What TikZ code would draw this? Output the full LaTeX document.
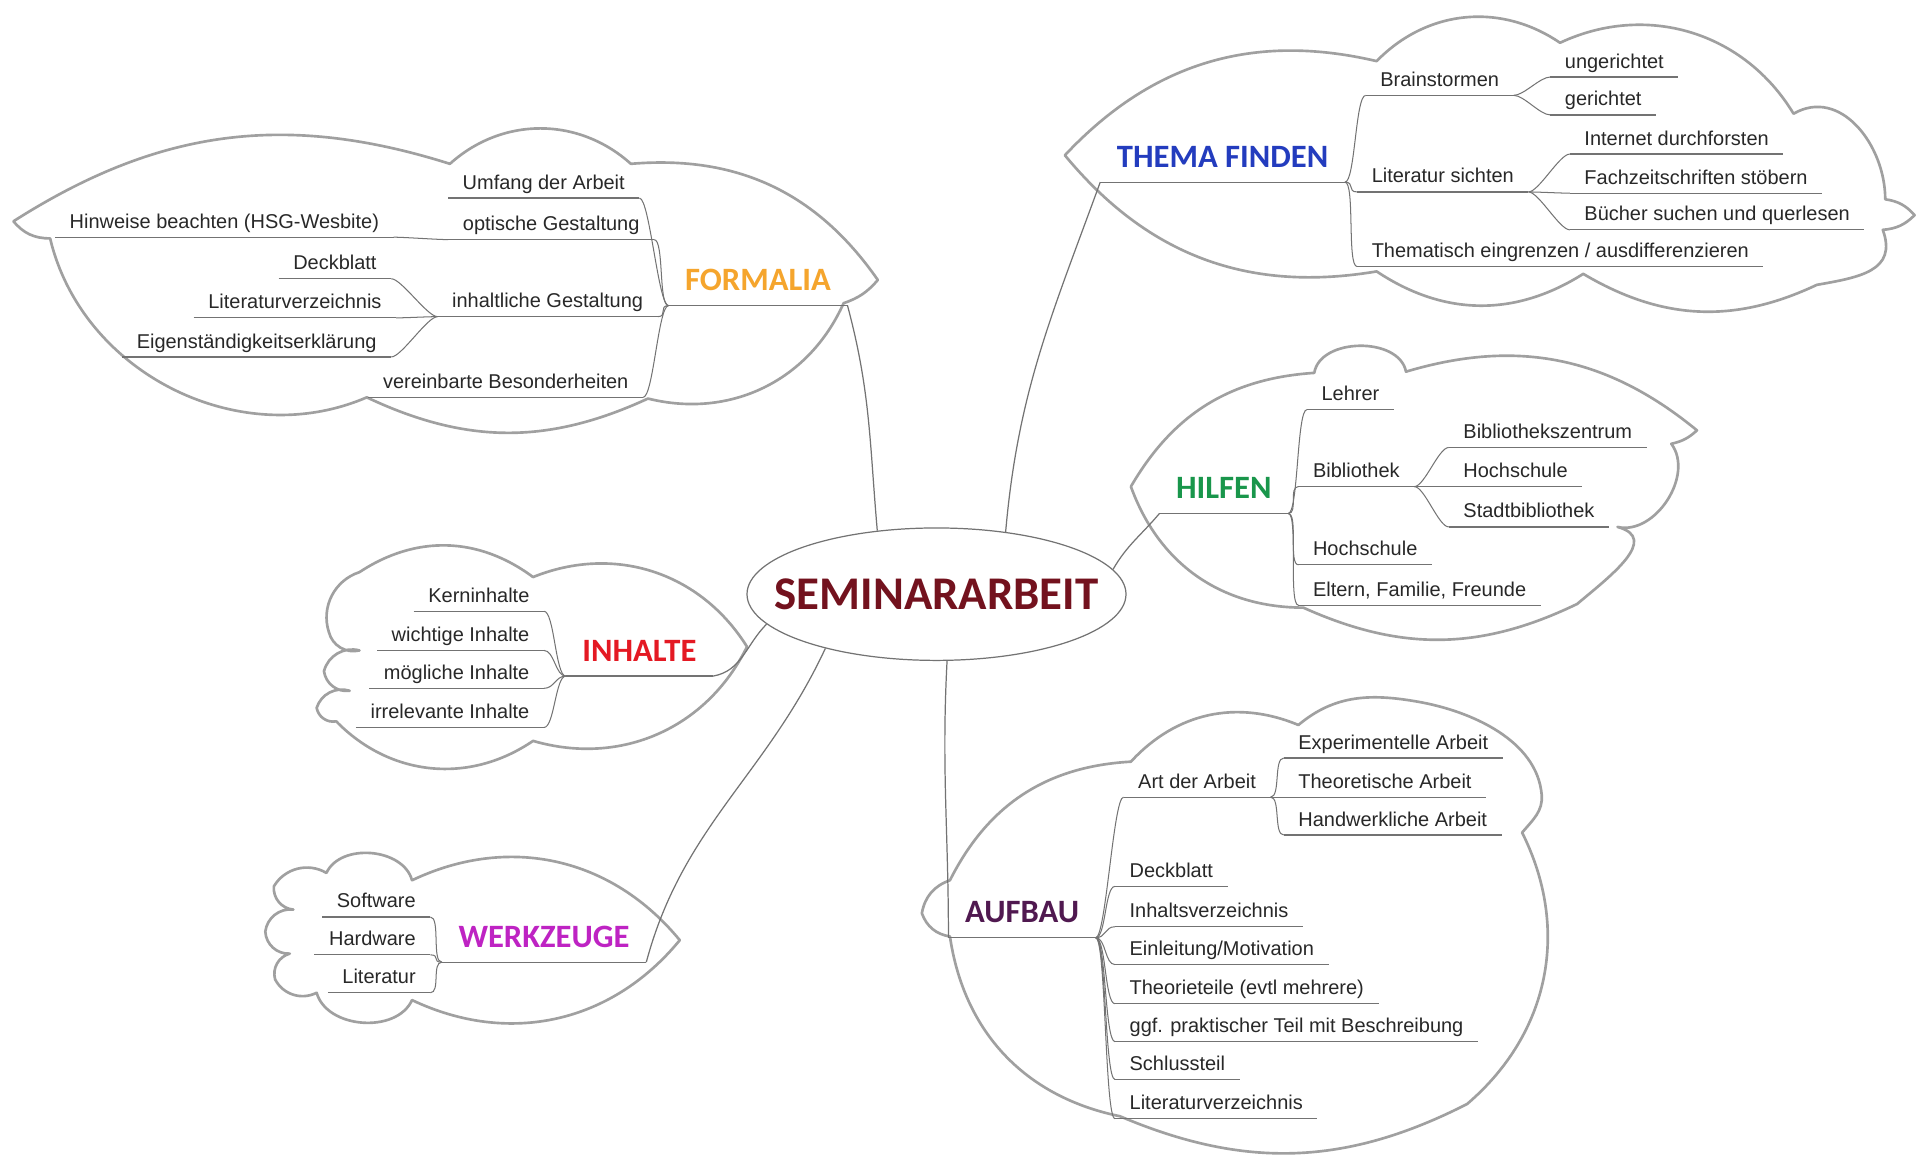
\documentclass[tikz,border=0pt]{standalone}
\usepackage{fontspec}
\setmainfont{Liberation Sans}
\newfontfamily\headfont{Carlito}
\usetikzlibrary{positioning,shapes.geometric}

\definecolor{cloudgray}{RGB}{160,160,160}
\definecolor{linegray}{RGB}{115,115,115}
\definecolor{textgray}{RGB}{40,40,40}
\definecolor{semred}{RGB}{115,18,30}
\definecolor{themablue}{RGB}{35,60,190}
\definecolor{formorange}{RGB}{245,165,45}
\definecolor{hilfgreen}{RGB}{25,150,75}
\definecolor{inhred}{RGB}{228,25,35}
\definecolor{werkmagenta}{RGB}{190,35,195}
\definecolor{aufpurple}{RGB}{80,25,80}

\begin{document}
\begin{tikzpicture}[%
	x=0.6pt,y=0.6pt,
	every node/.style={font=\fontsize{9.8}{11}\selectfont,text=textgray},
	topic/.style={inner xsep=7pt,inner ysep=2pt,text depth=2.2pt},
	rtopic/.style={topic,anchor=south west},
	ltopic/.style={topic,anchor=south east},
	head/.style={anchor=south,inner xsep=8pt,inner ysep=7pt,
		font=\headfont\bfseries\fontsize{16}{18}\selectfont},
	cloudline/.style={draw=cloudgray,line width=1.3pt,line join=round,line cap=round},
	uline/.style={draw=linegray,line width=.6pt},
	rbranch/.style={draw=linegray,line width=.5pt,out=0,in=180,out distance=5pt,in distance=5pt},
	lbranch/.style={draw=linegray,line width=.5pt,out=180,in=0,out distance=5pt,in distance=5pt},
	link/.style={draw=linegray,line width=.6pt}]

	\fill[white] (0,0) rectangle (1568,-944);
	\useasboundingbox (0,0) rectangle (1568,-944);

	% clouds
	\draw[cloudline] (871,-127) to[bend left=30] (1126,-50) to[bend left=40] (1276,-35)
		to[bend left=42] (1467,-93) to[out=30,in=90,looseness=1.1] (1542,-163)
		to[bend left=20] (1566,-176) to[bend left=20] (1540,-188)
		to[out=-70,in=10,looseness=1.3] (1486,-233) to[bend left=28] (1295,-224)
		to[bend left=33] (1126,-222) to[bend left=30] (871,-127);
	\draw[cloudline] (11,-181) to[bend left=25] (368,-134) to[bend left=42] (516,-134)
		to[bend left=30] (718,-229) to[bend left=15] (690,-248) to[bend left=40] (530,-326)
		to[bend left=25] (300,-325) to[bend left=50] (41,-195) to[bend left=25] (11,-181);
	\draw[cloudline] (925,-398) to[bend left=28] (1075,-305) to[bend left=80] (1150,-304)
		to[bend left=28] (1388,-352) to[bend left=15] (1367,-363) to[bend left=70] (1323,-431)
		to[out=-15,in=40,looseness=1.3] (1290,-494) to[bend left=25] (1066,-497)
		to[bend left=35] (925,-398);
	\draw[cloudline] (294,-468) to[bend left=35] (436,-472) to[bend left=40] (611,-529)
		to[bend left=40] (436,-606) to[bend left=40] (275,-590) to[bend left=45] (259,-579)
		to[bend left=45] (286,-565) to[bend left=45] (265,-549) to[bend left=45] (294,-532)
		to[bend left=45] (269,-517) to[bend left=45] (294,-468);
	\draw[cloudline] (267,-714) to[bend left=70] (337,-720) to[bend left=38] (556,-769)
		to[bend left=38] (337,-818) to[bend left=70] (259,-812) to[bend left=45] (225,-801)
		to[bend left=45] (237,-780) to[bend left=45] (217,-762) to[bend left=45] (240,-744)
		to[bend left=45] (224,-725) to[bend left=45] (267,-714);
	\draw[cloudline] (754,-747) to[bend left=30] (777,-720) to[bend left=30] (925,-623)
		to[bend left=35] (1062,-593) to[out=40,in=170] (1160,-574)
		to[out=-10,in=95,looseness=0.9] (1261,-650) to[out=-85,in=50] (1245,-681)
		to[bend left=38] (1200,-903) to[bend left=25] (916,-913)
		to[bend left=35] (777,-766) to[bend left=30] (754,-747);

	% centre
	\node[draw=linegray,line width=.6pt,ellipse,minimum width=186pt,minimum height=65pt,
		inner xsep=-20pt,inner ysep=0pt,text=semred,
		font=\headfont\bfseries\fontsize{23}{26}\selectfont]
		(SEM) at (766,-486) {SEMINARARBEIT};

	% thema finden
	\node[head,text=themablue] (THEMA) at (1000,-149) {THEMA FINDEN};
	\node[rtopic] (BRAIN) at (1117,-78)  {Brainstormen};
	\node[rtopic] (UNG)   at (1268,-63)  {ungerichtet};
	\node[rtopic] (GER)   at (1268,-94)  {gerichtet};
	\node[rtopic] (LIT)   at (1110,-157) {Literatur sichten};
	\node[rtopic] (NET)   at (1284,-126) {Internet durchforsten};
	\node[rtopic] (FACH)  at (1284,-158) {Fachzeitschriften stöbern};
	\node[rtopic] (BUCH)  at (1284,-188) {Bücher suchen und querlesen};
	\node[rtopic] (EING)  at (1110,-218) {Thematisch eingrenzen / ausdifferenzieren};

	% hilfen
	\node[head,text=hilfgreen] (HILF) at (1001,-420) {HILFEN};
	\node[rtopic] (LEHR) at (1069,-335) {Lehrer};
	\node[rtopic] (BIB)  at (1062,-398) {Bibliothek};
	\node[rtopic] (BZ)   at (1185,-366) {Bibliothekszentrum};
	\node[rtopic] (HS)   at (1185,-398) {Hochschule};
	\node[rtopic] (SB)   at (1185,-431) {Stadtbibliothek};
	\node[rtopic] (HS2)  at (1062,-462) {Hochschule};
	\node[rtopic] (ELT)  at (1062,-495) {Eltern, Familie, Freunde};

	% aufbau
	\node[head,text=aufpurple] (AUF) at (836,-767) {AUFBAU};
	\node[rtopic] (ART)  at (919,-652)  {Art der Arbeit};
	\node[rtopic] (EXP)  at (1050,-620) {Experimentelle Arbeit};
	\node[rtopic] (THEO) at (1050,-652) {Theoretische Arbeit};
	\node[rtopic] (HAND) at (1050,-683) {Handwerkliche Arbeit};
	\node[rtopic] (DB)   at (912,-725)  {Deckblatt};
	\node[rtopic] (IV)   at (912,-758)  {Inhaltsverzeichnis};
	\node[rtopic] (EM)   at (912,-789)  {Einleitung/Motivation};
	\node[rtopic] (TT)   at (912,-821)  {Theorieteile (evtl mehrere)};
	\node[rtopic] (PT)   at (912,-852)  {ggf. praktischer Teil mit Beschreibung};
	\node[rtopic] (ST)   at (912,-883)  {Schlussteil};
	\node[rtopic] (LV)   at (912,-915)  {Literaturverzeichnis};

	% formalia
	\node[head,text=formorange] (FORM) at (620,-250) {FORMALIA};
	\node[ltopic] (UMF)   at (523,-162) {Umfang der Arbeit};
	\node[ltopic] (OPT)   at (535,-196) {optische Gestaltung};
	\node[ltopic] (HINW)  at (322,-194) {Hinweise beachten (HSG-Wesbite)};
	\node[ltopic] (INH)   at (538,-259) {inhaltliche Gestaltung};
	\node[ltopic] (DECK)  at (320,-228) {Deckblatt};
	\node[ltopic] (LITV)  at (324,-260) {Literaturverzeichnis};
	\node[ltopic] (EIGEN) at (320,-292) {Eigenständigkeitserklärung};
	\node[ltopic] (VER)   at (526,-325) {vereinbarte Besonderheiten};

	% inhalte
	\node[head,text=inhred] (INHA) at (523,-553) {INHALTE};
	\node[ltopic] (KERN) at (445,-500) {Kerninhalte};
	\node[ltopic] (WICH) at (445,-532) {wichtige Inhalte};
	\node[ltopic] (MOEG) at (445,-563) {mögliche Inhalte};
	\node[ltopic] (IRR)  at (445,-595) {irrelevante Inhalte};

	% werkzeuge
	\node[head,text=werkmagenta] (WERK) at (445,-787) {WERKZEUGE};
	\node[ltopic] (SOFT) at (352,-750) {Software};
	\node[ltopic] (HARD) at (352,-781) {Hardware};
	\node[ltopic] (LITW) at (352,-812) {Literatur};

	% underlines
	\foreach \n in {THEMA,BRAIN,UNG,GER,LIT,NET,FACH,BUCH,EING,
			HILF,LEHR,BIB,BZ,HS,SB,HS2,ELT,
			AUF,ART,EXP,THEO,HAND,DB,IV,EM,TT,PT,ST,LV,
			FORM,UMF,OPT,HINW,INH,DECK,LITV,EIGEN,VER,
			INHA,KERN,WICH,MOEG,IRR,WERK,SOFT,HARD,LITW}
		\draw[uline] (\n.south west) -- (\n.south east);

	% branches
	\foreach \c in {BRAIN,LIT,EING} \path (THEMA.south east) edge[rbranch] (\c.south west);
	\foreach \c in {UNG,GER} \path (BRAIN.south east) edge[rbranch] (\c.south west);
	\foreach \c in {NET,FACH,BUCH} \path (LIT.south east) edge[rbranch] (\c.south west);
	\foreach \c in {LEHR,BIB,HS2,ELT} \path (HILF.south east) edge[rbranch] (\c.south west);
	\foreach \c in {BZ,HS,SB} \path (BIB.south east) edge[rbranch] (\c.south west);
	\foreach \c in {ART,DB,IV,EM,TT,PT,ST,LV} \path (AUF.south east) edge[rbranch] (\c.south west);
	\foreach \c in {EXP,THEO,HAND} \path (ART.south east) edge[rbranch] (\c.south west);
	\foreach \c in {UMF,OPT,INH,VER} \path (FORM.south west) edge[lbranch] (\c.south east);
	\path (OPT.south west) edge[lbranch] (HINW.south east);
	\foreach \c in {DECK,LITV,EIGEN} \path (INH.south west) edge[lbranch] (\c.south east);
	\foreach \c in {KERN,WICH,MOEG,IRR} \path (INHA.south west) edge[lbranch] (\c.south east);
	\foreach \c in {SOFT,HARD,LITW} \path (WERK.south west) edge[lbranch] (\c.south east);

	% links to the centre
	\path[link] (SEM.133) edge[out=95,in=-75]   (FORM.south east);
	\path[link] (SEM.42)  edge[out=85,in=-110]  (THEMA.south west);
	\path[link] (SEM.8)   edge[out=60,in=-130]  (HILF.south west);
	\path[link] (SEM.190) edge[out=225,in=10]   (INHA.south east);
	\path[link] (SEM.206) edge[out=-115,in=75]  (WERK.south east);
	\path[link] (SEM.279) edge[out=-93,in=90]   (AUF.south west);

\end{tikzpicture}
\end{document}
